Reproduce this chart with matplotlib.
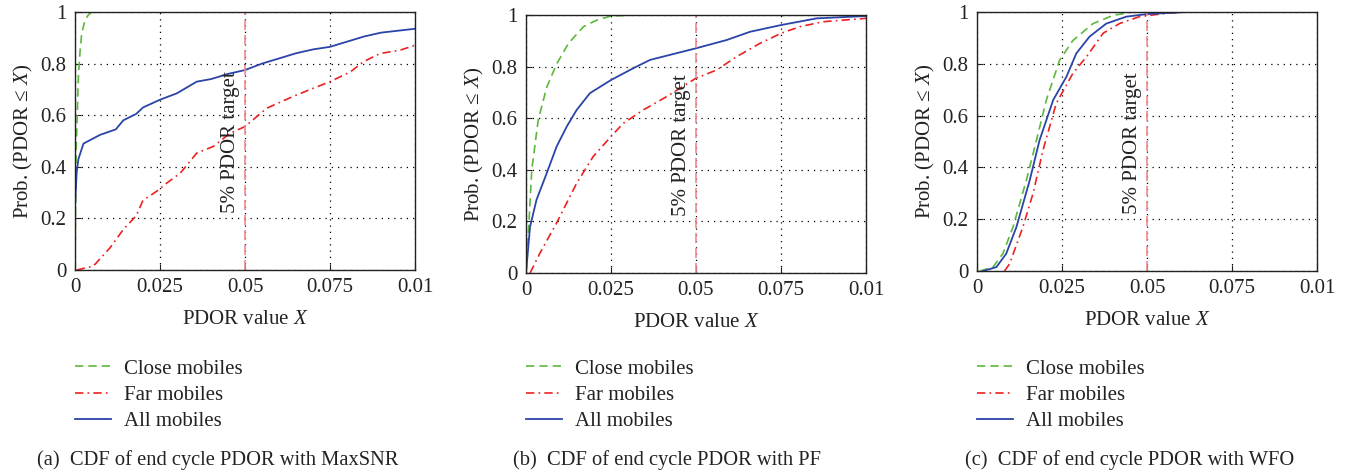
import matplotlib
matplotlib.use("Agg")
import matplotlib.pyplot as plt

plt.rcParams['font.family'] = ['Liberation Serif', 'DejaVu Serif']
plt.rcParams['mathtext.fontset'] = 'custom'
plt.rcParams['mathtext.rm'] = 'Liberation Serif'
plt.rcParams['mathtext.it'] = 'Liberation Serif:italic'

# ---------------- data ----------------
xticks = [0, 0.025, 0.05, 0.075, 0.1]
xticklabels = ["0", "0.025", "0.05", "0.075", "0.01"]
yticks = [0, 0.2, 0.4, 0.6, 0.8, 1.0]
yticklabels = ["0", "0.2", "0.4", "0.6", "0.8", "1"]
series_names = ["Close mobiles", "Far mobiles", "All mobiles"]
captions = ["(a)  CDF of end cycle PDOR with MaxSNR",
            "(b)  CDF of end cycle PDOR with PF",
            "(c)  CDF of end cycle PDOR with WFO"]
target = 0.05

# (a) MaxSNR
a_close_x = [0, 0.0003, 0.0007, 0.001, 0.0015, 0.002, 0.003, 0.004, 0.005]
a_close_y = [0, 0.45, 0.62, 0.75, 0.85, 0.92, 0.97, 0.99, 1.0]
a_far_x = [0.0005, 0.0054, 0.0103, 0.0142, 0.018, 0.02, 0.024, 0.027, 0.031, 0.0358, 0.0407,
           0.0456, 0.05, 0.0564, 0.064, 0.07, 0.075, 0.081, 0.0848, 0.0897, 0.0956, 0.1]
a_far_y = [0.0, 0.015, 0.086, 0.157, 0.21, 0.27, 0.305, 0.337, 0.376, 0.453, 0.479,
           0.53, 0.556, 0.627, 0.672, 0.704, 0.73, 0.768, 0.807, 0.839, 0.852, 0.871]
a_all_x = [0, 0.0005, 0.001, 0.002, 0.0025, 0.0074, 0.012, 0.0142, 0.018, 0.02, 0.025, 0.03,
           0.0358, 0.04, 0.045, 0.05, 0.055, 0.06, 0.065, 0.07, 0.075, 0.08, 0.085, 0.09, 0.1]
a_all_y = [0.25, 0.38, 0.43, 0.47, 0.49, 0.524, 0.545, 0.58, 0.605, 0.63, 0.66, 0.685,
           0.73, 0.74, 0.76, 0.775, 0.80, 0.82, 0.84, 0.855, 0.865, 0.885, 0.905, 0.92, 0.935]

# (b) PF
b_close_x = [0, 0.0007, 0.0017, 0.0036, 0.0061, 0.009, 0.0125, 0.0169, 0.0208, 0.025, 0.0325]
b_close_y = [0, 0.155, 0.40, 0.594, 0.72, 0.81, 0.89, 0.955, 0.98, 0.996, 1.0]
b_far_x = [0.0012, 0.0041, 0.009, 0.0149, 0.0198, 0.025, 0.0286, 0.0345, 0.0414, 0.05, 0.0561,
           0.062, 0.0688, 0.075, 0.0806, 0.0875, 0.1]
b_far_y = [0.0, 0.077, 0.194, 0.348, 0.452, 0.529, 0.58, 0.632, 0.684, 0.755, 0.787,
           0.839, 0.89, 0.929, 0.955, 0.974, 0.987]
b_all_x = [0, 0.0012, 0.0031, 0.0061, 0.009, 0.012, 0.0149, 0.0188, 0.025, 0.0316, 0.0365,
           0.0443, 0.05, 0.059, 0.0659, 0.075, 0.0855, 0.1]
b_all_y = [0, 0.18, 0.284, 0.387, 0.49, 0.568, 0.632, 0.697, 0.748, 0.794, 0.826,
           0.852, 0.871, 0.903, 0.935, 0.961, 0.987, 0.996]

# (c) WFO
c_close_x = [0.0008, 0.0047, 0.0076, 0.0106, 0.0145, 0.0175, 0.0204, 0.0243, 0.0282, 0.0341,
             0.04, 0.0459]
c_close_y = [0, 0.015, 0.067, 0.17, 0.35, 0.505, 0.66, 0.814, 0.89, 0.955, 0.987, 1.0]
c_far_x = [0.0081, 0.0096, 0.0135, 0.0165, 0.0194, 0.0233, 0.0282, 0.0322, 0.0371, 0.042,
           0.0478, 0.0557, 0.0616]
c_far_y = [0, 0.028, 0.17, 0.30, 0.466, 0.647, 0.763, 0.827, 0.918, 0.956, 0.982, 0.995, 1.0]
c_all_x = [0.0018, 0.0057, 0.0086, 0.0116, 0.0155, 0.0184, 0.0224, 0.0263, 0.0292, 0.0331,
           0.038, 0.0439, 0.05, 0.0616]
c_all_y = [0, 0.015, 0.067, 0.17, 0.35, 0.505, 0.66, 0.75, 0.84, 0.905, 0.955, 0.982, 0.992, 1.0]

panels = [
    (a_close_x, a_close_y, a_far_x, a_far_y, a_all_x, a_all_y),
    (b_close_x, b_close_y, b_far_x, b_far_y, b_all_x, b_all_y),
    (c_close_x, c_close_y, c_far_x, c_far_y, c_all_x, c_all_y),
]

# ---------------- layout ----------------
W, H = 1345, 473
fig = plt.figure(figsize=(W / 100, H / 100), dpi=100)
boxes = [(75, 415, 12, 270), (526, 866, 15, 273), (977, 1317, 12, 271)]
caption_x = [37, 513, 965]

green = '#5cb83c'
red = '#ee2020'
blue = '#2a44a8'
tcol = '#f08a8a'
fs = 15

for i, (box, data) in enumerate(zip(boxes, panels)):
    l, r, t, b = box
    ax = fig.add_axes([l / W, 1 - b / H, (r - l) / W, (b - t) / H])
    cx, cy, fx, fy, ax_, ay = data
    ax.plot(cx, cy, color=green, lw=1.2, ls=(0, (5, 3)), label=series_names[0])
    ax.plot(fx, fy, color=red, lw=1.2, ls=(0, (5, 2.5, 1, 2.5)), label=series_names[1])
    ax.plot(ax_, ay, color=blue, lw=1.3, ls='-', label=series_names[2])
    ax.axvline(target, color=tcol, lw=1.2, ls=(0, (6, 3)))
    ax.text(target - 0.0015, 0.495, "5% PDOR target", rotation=90, ha='right', va='center',
            fontsize=fs, color='#222222')
    ax.set_xlim(0, 0.1)
    ax.set_ylim(0, 1)
    ax.set_xticks(xticks)
    ax.set_xticklabels(xticklabels)
    ax.set_yticks(yticks)
    ax.set_yticklabels(yticklabels)
    ax.tick_params(direction='in', length=4, width=0.8, labelsize=fs, pad=6, colors='#222222')
    ax.grid(True, color='black', ls=(0, (1, 4)), lw=0.9)
    for s in ax.spines.values():
        s.set_linewidth(1.0)
        s.set_color('#222222')
    ax.set_xlabel("PDOR value $X$", fontsize=fs, labelpad=9, color='#222222')
    ax.set_ylabel("Prob. (PDOR \u2264 $X$)", fontsize=fs, labelpad=4, color='#222222')
    leg = ax.legend(loc='upper left', bbox_to_anchor=(l / W, 1 - 359 / H),
                    bbox_transform=fig.transFigure, frameon=False, fontsize=fs,
                    handlelength=1.75, handletextpad=0.6, labelspacing=0.32,
                    borderpad=0, borderaxespad=0)
    for txt in leg.get_texts():
        txt.set_color('#222222')
    fig.text(caption_x[i] / W, 1 - 460 / H, captions[i], fontsize=14.8, ha='left', va='center',
             color='#222222')

fig.savefig("out.png", dpi=100)
